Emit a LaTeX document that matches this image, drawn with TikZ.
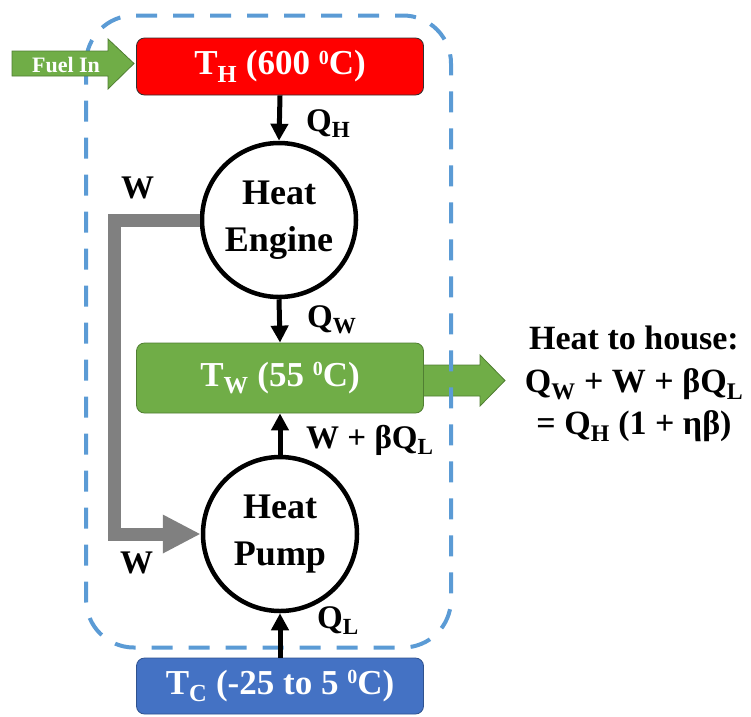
\documentclass[tikz,border=0pt]{standalone}
\usepackage{fontspec}
\setmainfont{Liberation Serif}
\usetikzlibrary{arrows.meta,calc}
\definecolor{boxred}{HTML}{FF0000}
\definecolor{boxgreen}{HTML}{70AD47}
\definecolor{edgegreen}{HTML}{507E32}
\definecolor{boxblue}{HTML}{4472C4}
\definecolor{edgeblue}{HTML}{2F528F}
\definecolor{dashblue}{HTML}{5B9BD5}
\definecolor{arrgray}{HTML}{808080}
\definecolor{edgedark}{HTML}{303030}
\newcommand\supz{\raisebox{0.3em}{\fontsize{20}{20}\selectfont 0}}
\tikzset{
  tempbox/.style={rectangle, rounded corners=8pt, minimum width=287pt, inner sep=0pt,
    text=white, font=\fontsize{35}{40}\selectfont\bfseries, line width=0.8pt},
  proc/.style={circle, draw=black, fill=white, line width=4.5pt, minimum size=154pt,
    inner sep=0pt, align=center, font=\fontsize{36}{47}\selectfont\bfseries},
  flow/.style={line width=5pt, -{Triangle[width=17pt,length=17pt]}},
  work/.style={draw=arrgray, line width=13pt, -{Triangle[width=36pt,length=38pt]}},
  lbl/.style={inner sep=0pt, anchor=base west, font=\fontsize{33}{38}\selectfont\bfseries},
  blockarrow/.style={fill=boxgreen, draw=edgegreen, line width=0.8pt},
  boundary/.style={draw=dashblue, line width=4pt, dash pattern=on 21pt off 16pt, rounded corners=48pt}
}
\begin{document}
\begin{tikzpicture}[x=1pt,y=-1pt]
\useasboundingbox (0,0) rectangle (751,716);
% heat-to-house block arrow (behind box and boundary)
\draw[blockarrow] (420,365) -- (480,365) -- (480,355) -- (505,380.5) -- (480,406) -- (480,396) -- (420,396) -- cycle;
% system boundary
\draw[boundary] (86,15.5) rectangle (451,647.5);
% reservoirs
\node[tempbox, fill=boxred, draw=edgedark, minimum height=57pt] (th) at (280,66.5) {T\textsubscript{H} (600 \supz C)};
\node[tempbox, fill=boxgreen, draw=edgegreen, minimum height=70pt] (tw) at (280,378) {T\textsubscript{W} (55 \supz C)};
\node[tempbox, fill=boxblue, draw=edgeblue, minimum height=56pt] (tc) at (280,686) {T\textsubscript{C} (-25 to 5 \supz C)};
% machines
\node[proc] (he) at (279,220) {Heat\\Engine};
\node[proc] (hp) at (280,534) {Heat\\Pump};
% fuel in block arrow
\draw[blockarrow] (12,51) -- (108,51) -- (108,39) -- (134,63.5) -- (108,89) -- (108,76) -- (12,76) -- cycle;
\node[inner sep=0pt, text=white, font=\fontsize{22}{24}\selectfont\bfseries] (fuel) at (66,64.5) {Fuel In};
% heat flows
\draw[flow] (th.south) -- (he.north);
\draw[flow] (he.south) -- (tw.north);
\draw[flow] (hp.north) -- (tw.south);
\draw[flow] (tc.north) -- (hp.south);
% work transfer
\coordinate (wa) at (114,220);
\coordinate (wb) at (114,534);
\draw[work] (he.west) -- (wa) -- (wb) -- (hp.west);
% labels
\node[lbl] (lqh) at (306,131) {Q\textsubscript{H}};
\node[lbl] (lqw) at (307,327) {Q\textsubscript{W}};
\node[lbl] (lwb) at (306,448) {W + βQ\textsubscript{L}};
\node[lbl] (lql) at (317,628) {Q\textsubscript{L}};
\node[lbl] (lw1) at (121,198) {W};
\node[lbl] (lw2) at (120,573) {W};
\node[inner sep=0pt, align=center, font=\fontsize{34}{42.5}\selectfont\bfseries] (house) at (634,384)
  {Heat to house:\\Q\textsubscript{W} + W + βQ\textsubscript{L}\\= Q\textsubscript{H} (1 + ηβ)};
\end{tikzpicture}
\end{document}
